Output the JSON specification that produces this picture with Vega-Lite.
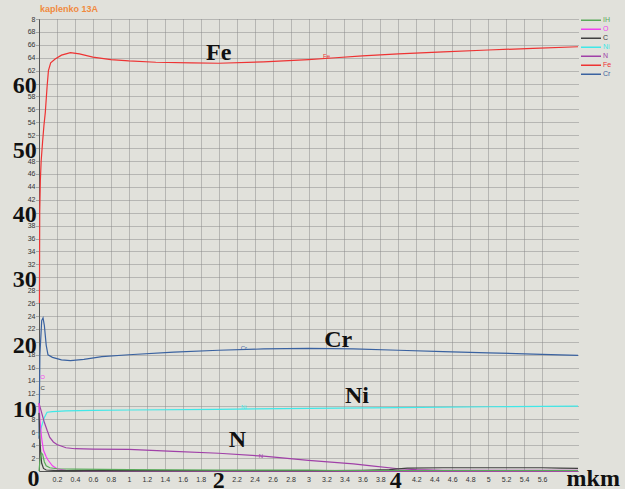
{
  "$schema": "https://vega.github.io/schema/vega-lite/v6.json",
  "width": 539,
  "height": 452,
  "autosize": "none",
  "padding": {"left": 39, "top": 19, "right": 47, "bottom": 18},
  "background": "#e1e1db",
  "config": {
    "view": {"stroke": null, "fill": "#e1e1db"},
    "axis": {"labelFont": "Liberation Sans", "labelFontSize": 7, "labelColor": "#333333", "domainColor": "#555555", "tickColor": "#666666", "labelOverlap": false, "labelBound": false, "labelFlush": false, "tickCount": 60}
  },
  "title": {"text": "kaplenko 13A", "anchor": "start", "frame": "group", "fontSize": 9, "font": "Liberation Sans", "fontWeight": "bold", "color": "#f08a40", "offset": 1, "dx": 1},
  "datasets": {
    "series": [
      {"s": "Fe", "x": 0.005, "v": 26}, {"s": "Fe", "x": 0.008, "v": 40}, {"s": "Fe", "x": 0.015, "v": 45}, {"s": "Fe", "x": 0.024, "v": 48},
      {"s": "Fe", "x": 0.04, "v": 51}, {"s": "Fe", "x": 0.055, "v": 53.5}, {"s": "Fe", "x": 0.07, "v": 55.5}, {"s": "Fe", "x": 0.09, "v": 59.5},
      {"s": "Fe", "x": 0.105, "v": 62}, {"s": "Fe", "x": 0.13, "v": 63.2}, {"s": "Fe", "x": 0.18, "v": 63.8}, {"s": "Fe", "x": 0.25, "v": 64.4},
      {"s": "Fe", "x": 0.35, "v": 64.8}, {"s": "Fe", "x": 0.45, "v": 64.6}, {"s": "Fe", "x": 0.6, "v": 64.1}, {"s": "Fe", "x": 0.8, "v": 63.7},
      {"s": "Fe", "x": 1.0, "v": 63.5}, {"s": "Fe", "x": 1.3, "v": 63.3}, {"s": "Fe", "x": 1.7, "v": 63.2}, {"s": "Fe", "x": 2.0, "v": 63.15},
      {"s": "Fe", "x": 2.5, "v": 63.35}, {"s": "Fe", "x": 3.0, "v": 63.7}, {"s": "Fe", "x": 3.3, "v": 64.0}, {"s": "Fe", "x": 3.6, "v": 64.3},
      {"s": "Fe", "x": 4.0, "v": 64.6}, {"s": "Fe", "x": 4.5, "v": 64.9}, {"s": "Fe", "x": 5.0, "v": 65.2}, {"s": "Fe", "x": 5.5, "v": 65.45},
      {"s": "Fe", "x": 6.0, "v": 65.7},
      {"s": "Cr", "x": 0.0, "v": 5}, {"s": "Cr", "x": 0.01, "v": 18}, {"s": "Cr", "x": 0.03, "v": 23.3}, {"s": "Cr", "x": 0.045, "v": 23.7},
      {"s": "Cr", "x": 0.06, "v": 22.5}, {"s": "Cr", "x": 0.08, "v": 19.5}, {"s": "Cr", "x": 0.1, "v": 18.0}, {"s": "Cr", "x": 0.15, "v": 17.6},
      {"s": "Cr", "x": 0.25, "v": 17.2}, {"s": "Cr", "x": 0.35, "v": 17.1}, {"s": "Cr", "x": 0.5, "v": 17.3}, {"s": "Cr", "x": 0.7, "v": 17.7},
      {"s": "Cr", "x": 1.0, "v": 18.0}, {"s": "Cr", "x": 1.5, "v": 18.4}, {"s": "Cr", "x": 2.0, "v": 18.7}, {"s": "Cr", "x": 2.5, "v": 18.9},
      {"s": "Cr", "x": 3.0, "v": 19.0}, {"s": "Cr", "x": 3.5, "v": 18.9}, {"s": "Cr", "x": 4.0, "v": 18.7}, {"s": "Cr", "x": 4.5, "v": 18.5},
      {"s": "Cr", "x": 5.0, "v": 18.3}, {"s": "Cr", "x": 5.5, "v": 18.1}, {"s": "Cr", "x": 6.0, "v": 17.9},
      {"s": "Ni", "x": 0.0, "v": 5.5}, {"s": "Ni", "x": 0.03, "v": 7}, {"s": "Ni", "x": 0.06, "v": 8.3}, {"s": "Ni", "x": 0.09, "v": 9.1},
      {"s": "Ni", "x": 0.15, "v": 9.2}, {"s": "Ni", "x": 0.3, "v": 9.3}, {"s": "Ni", "x": 0.6, "v": 9.4}, {"s": "Ni", "x": 1.0, "v": 9.45},
      {"s": "Ni", "x": 2.0, "v": 9.55}, {"s": "Ni", "x": 3.0, "v": 9.7}, {"s": "Ni", "x": 4.0, "v": 9.8}, {"s": "Ni", "x": 5.0, "v": 9.95},
      {"s": "Ni", "x": 6.0, "v": 10.05},
      {"s": "N", "x": 0.0, "v": 10.5}, {"s": "N", "x": 0.03, "v": 9}, {"s": "N", "x": 0.06, "v": 7.5}, {"s": "N", "x": 0.09, "v": 6.3},
      {"s": "N", "x": 0.12, "v": 5.2}, {"s": "N", "x": 0.16, "v": 4.5}, {"s": "N", "x": 0.2, "v": 4.1}, {"s": "N", "x": 0.3, "v": 3.6},
      {"s": "N", "x": 0.4, "v": 3.45}, {"s": "N", "x": 0.6, "v": 3.4}, {"s": "N", "x": 1.0, "v": 3.35}, {"s": "N", "x": 1.5, "v": 3.05},
      {"s": "N", "x": 2.0, "v": 2.75}, {"s": "N", "x": 2.5, "v": 2.3}, {"s": "N", "x": 3.0, "v": 1.65}, {"s": "N", "x": 3.5, "v": 1.1},
      {"s": "N", "x": 3.7, "v": 0.8}, {"s": "N", "x": 4.0, "v": 0.35}, {"s": "N", "x": 4.2, "v": 0.2}, {"s": "N", "x": 4.5, "v": 0.1},
      {"s": "N", "x": 6.0, "v": 0.1},
      {"s": "O", "x": 0.0, "v": 10.5}, {"s": "O", "x": 0.01, "v": 8}, {"s": "O", "x": 0.03, "v": 5}, {"s": "O", "x": 0.05, "v": 3.2},
      {"s": "O", "x": 0.08, "v": 2.2}, {"s": "O", "x": 0.1, "v": 1.7}, {"s": "O", "x": 0.15, "v": 0.8}, {"s": "O", "x": 0.2, "v": 0.35},
      {"s": "O", "x": 0.3, "v": 0.12}, {"s": "O", "x": 0.5, "v": 0.05}, {"s": "O", "x": 2.0, "v": 0.03}, {"s": "O", "x": 4.0, "v": 0.03},
      {"s": "O", "x": 6.0, "v": 0.03},
      {"s": "C", "x": 0.0, "v": 9}, {"s": "C", "x": 0.01, "v": 5}, {"s": "C", "x": 0.02, "v": 2.5}, {"s": "C", "x": 0.03, "v": 1.2},
      {"s": "C", "x": 0.05, "v": 0.4}, {"s": "C", "x": 0.08, "v": 0.15}, {"s": "C", "x": 0.2, "v": 0.05}, {"s": "C", "x": 3.2, "v": 0.05},
      {"s": "C", "x": 3.6, "v": 0.1}, {"s": "C", "x": 3.9, "v": 0.2}, {"s": "C", "x": 4.1, "v": 0.45}, {"s": "C", "x": 4.5, "v": 0.5},
      {"s": "C", "x": 5.0, "v": 0.5}, {"s": "C", "x": 5.6, "v": 0.5}, {"s": "C", "x": 5.8, "v": 0.45}, {"s": "C", "x": 6.0, "v": 0.4},
      {"s": "IH", "x": 0.0, "v": 0}, {"s": "IH", "x": 0.01, "v": 1.5}, {"s": "IH", "x": 0.025, "v": 2.8}, {"s": "IH", "x": 0.04, "v": 2.6},
      {"s": "IH", "x": 0.06, "v": 1.4}, {"s": "IH", "x": 0.08, "v": 0.8}, {"s": "IH", "x": 0.12, "v": 0.5}, {"s": "IH", "x": 0.2, "v": 0.35},
      {"s": "IH", "x": 0.4, "v": 0.3}, {"s": "IH", "x": 0.7, "v": 0.25}, {"s": "IH", "x": 1.0, "v": 0.2}, {"s": "IH", "x": 2.0, "v": 0.15},
      {"s": "IH", "x": 3.0, "v": 0.15}, {"s": "IH", "x": 3.3, "v": 0.08}, {"s": "IH", "x": 6.0, "v": 0.08}
    ],
    "small": [
      {"s": "Fe", "t": "Fe", "x": 3.2, "v": 64.3},
      {"s": "Cr", "t": "Cr", "x": 2.28, "v": 19.0},
      {"s": "Ni", "t": "Ni", "x": 2.28, "v": 9.9},
      {"s": "N", "t": "N", "x": 2.47, "v": 2.4},
      {"s": "O", "t": "O", "x": 0.04, "v": 14.5},
      {"s": "C", "t": "C", "x": 0.04, "v": 12.9}
    ],
    "big": [
      {"t": "60", "x": -0.158, "v": 58.5},
      {"t": "50", "x": -0.158, "v": 48.5},
      {"t": "40", "x": -0.158, "v": 38.5},
      {"t": "30", "x": -0.158, "v": 28.5},
      {"t": "20", "x": -0.158, "v": 18.3},
      {"t": "10", "x": -0.158, "v": 8.4},
      {"t": "0", "x": -0.06, "v": -2.4},
      {"t": "2", "x": 2.0, "v": -2.7},
      {"t": "4", "x": 3.97, "v": -2.7},
      {"t": "mkm", "x": 6.17, "v": -2.3},
      {"t": "Fe", "x": 2.0, "v": 63.7},
      {"t": "Cr", "x": 3.33, "v": 19.2},
      {"t": "Ni", "x": 3.54, "v": 10.5},
      {"t": "N", "x": 2.21, "v": 3.76}
    ]
  },
  "layer": [
    {
      "data": {"name": "series"},
      "mark": {"type": "line", "strokeWidth": 1.2},
      "encoding": {
        "x": {"field": "x", "type": "quantitative",
          "scale": {"domain": [0, 6], "nice": false, "zero": false},
          "axis": {"title": null, "tickCount": 60, "values": [0.2,0.4,0.6,0.8,1,1.2,1.4,1.6,1.8,2,2.2,2.4,2.6,2.8,3,3.2,3.4,3.6,3.8,4,4.2,4.4,4.6,4.8,5,5.2,5.4,5.6],
            "format": "~g", "labelExpr": "datum.value == 2 || datum.value == 4 ? '' : datum.label",
            "grid": true, "gridColor": "#8a8a8a", "gridDash": [1, 1], "tickSize": 0, "labelPadding": 4, "domainColor": "#555555"}},
        "y": {"field": "v", "type": "quantitative",
          "scale": {"domain": [0, 70], "nice": false},
          "axis": {"title": null, "tickCount": 60, "values": [2,4,6,8,10,12,14,16,18,20,22,24,26,28,30,32,34,36,38,40,42,44,46,48,50,52,54,56,58,60,62,64,66,68,70],
            "labelExpr": "datum.value == 70 ? '8' : (datum.value % 10 == 0 ? '' : datum.label)",
            "grid": true, "gridColor": "#8a8a8a", "gridDash": [1, 1], "tickSize": 3, "tickDash": [1, 1], "labelPadding": 1,
            "encode": {"grid": {"update": {"strokeOpacity": {"signal": "datum.value == 70 ? 0 : 1"}}}}}},
        "color": {"field": "s", "type": "nominal",
          "scale": {"domain": ["IH", "O", "C", "Ni", "N", "Fe", "Cr"], "range": ["#5aaa5a", "#f040f0", "#404040", "#40e8e8", "#a040a8", "#ee3333", "#3a62a0"]},
          "legend": {"orient": "none", "legendX": 541, "legendY": -3, "title": null, "symbolType": "stroke", "symbolSize": 400, "symbolStrokeWidth": 1.5,
            "labelFontSize": 7, "labelFont": "Liberation Sans", "rowPadding": 0, "clipHeight": 8.6, "labelOffset": 1, "padding": 0,
            "encode": {"labels": {"update": {"fill": {"scale": "color", "field": "value"}}}}}}
      }
    },
    {
      "data": {"name": "small"},
      "mark": {"type": "text", "fontSize": 6, "font": "Liberation Sans", "baseline": "middle"},
      "encoding": {
        "x": {"field": "x", "type": "quantitative"},
        "y": {"field": "v", "type": "quantitative"},
        "text": {"field": "t"},
        "color": {"field": "s", "type": "nominal"}
      }
    },
    {
      "data": {"name": "big"},
      "mark": {"type": "text", "font": "Liberation Serif", "fontWeight": "bold", "fontSize": 24, "baseline": "alphabetic", "align": "center", "color": "#111111"},
      "encoding": {
        "x": {"field": "x", "type": "quantitative"},
        "y": {"field": "v", "type": "quantitative"},
        "text": {"field": "t"}
      }
    }
  ]
}
